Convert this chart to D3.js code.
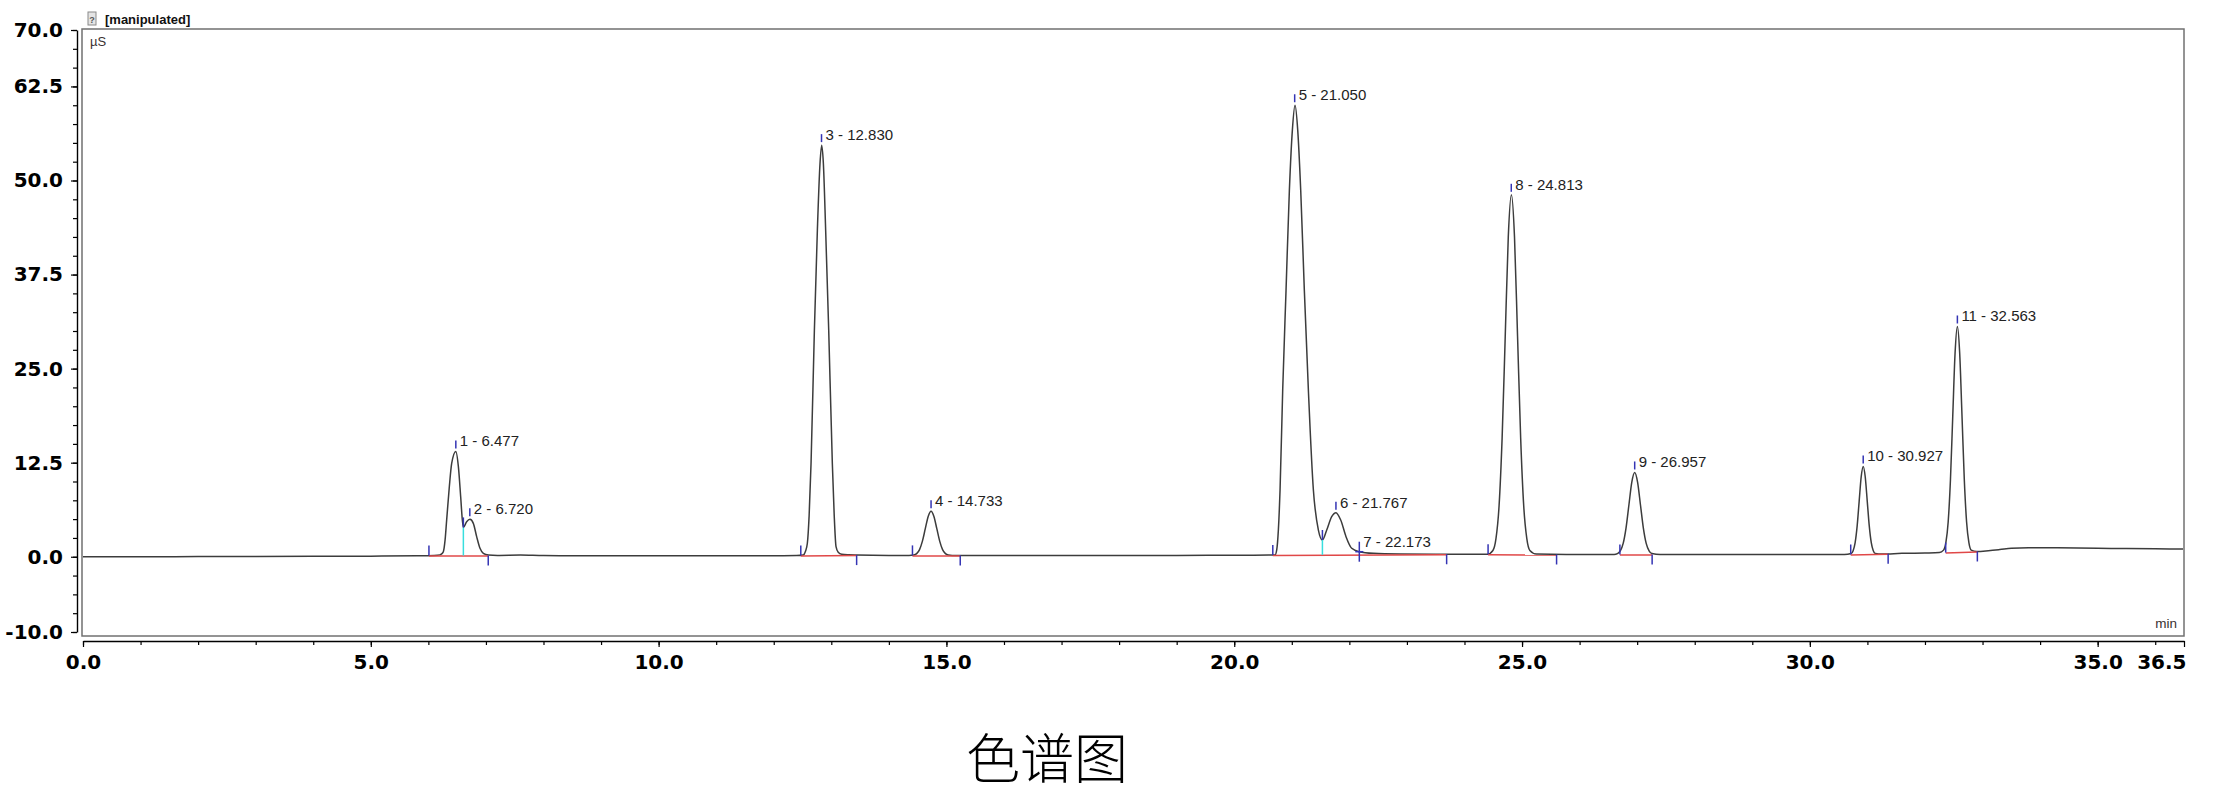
<!DOCTYPE html>
<html>
<head>
<meta charset="utf-8">
<script src="https://cdn.jsdelivr.net/npm/d3@7"></script>
<style>
  html, body { margin: 0; padding: 0; background: #ffffff; }
  svg { display: block; }
</style>
</head>
<body>
<script>
// ---------------- DATA ----------------
// chromatogram trace: [time (min), signal (µS)]
const trace = [
  [0, 0.0], [1, 0.0], [2, 0.02], [3, 0.03], [4, 0.05], [5, 0.08], [5.8, 0.12], [6.1, 0.17],
  [6.202, 0.25], [6.23, 0.38], [6.26, 0.67], [6.29, 2.2], [6.318, 4.9], [6.364, 9.3], [6.405, 12.4],
  [6.477, 14.0], [6.521, 12.0], [6.561, 8.0], [6.59, 4.9], [6.608, 3.9], [6.665, 4.66], [6.723, 4.97],
  [6.781, 4.44], [6.839, 2.67], [6.897, 1.12], [6.955, 0.45], [7.042, 0.23], [7.2, 0.18], [7.6, 0.22],
  [8.0, 0.15], [9, 0.12], [10, 0.12], [11, 0.13], [12, 0.14], [12.4, 0.16],
  [12.514, 0.23], [12.55, 0.7], [12.584, 1.79], [12.615, 5.5], [12.648, 12.4], [12.706, 30.1],
  [12.758, 43.4], [12.804, 52.3], [12.833, 54.7], [12.862, 52.3], [12.902, 43.4], [12.955, 30.1],
  [13.018, 12.4], [13.05, 5.6], [13.082, 1.34], [13.12, 0.6], [13.18, 0.33], [13.3, 0.25],
  [13.44, 0.22], [14.0, 0.18], [14.35, 0.18],
  [14.433, 0.22], [14.483, 0.41], [14.533, 0.95], [14.583, 2.07], [14.633, 3.73], [14.683, 5.36],
  [14.733, 6.05], [14.783, 5.36], [14.833, 3.73], [14.883, 2.07], [14.933, 0.95], [14.983, 0.41],
  [15.033, 0.22], [15.1, 0.18], [16, 0.18], [17, 0.18], [18, 0.18], [19, 0.18], [20, 0.2], [20.6, 0.22],
  [20.709, 0.23], [20.738, 0.9], [20.767, 3.6], [20.796, 8.87], [20.842, 22.16], [20.9, 35.4],
  [20.958, 48.7], [21.01, 56.7], [21.056, 60.0], [21.103, 56.7], [21.155, 48.7], [21.218, 35.4],
  [21.288, 22.16], [21.375, 8.87], [21.462, 3.55], [21.532, 2.23], [21.607, 3.55], [21.693, 5.32],
  [21.768, 5.86], [21.85, 4.88], [21.942, 2.67], [22.041, 1.12], [22.168, 0.67], [22.418, 0.45],
  [22.88, 0.36], [23.5, 0.33], [24.0, 0.32], [24.4, 0.32],
  [24.494, 0.83], [24.547, 2.40], [24.601, 6.77], [24.654, 15.8], [24.708, 29.3], [24.761, 42.5],
  [24.815, 48.1], [24.869, 42.5], [24.922, 29.3], [24.976, 15.8], [25.029, 6.77], [25.083, 2.40],
  [25.136, 0.83], [25.25, 0.35], [26, 0.3], [26.6, 0.3],
  [26.657, 0.42], [26.707, 0.78], [26.757, 1.77], [26.807, 3.84], [26.857, 6.91], [26.907, 9.92],
  [26.957, 11.2], [27.007, 9.92], [27.057, 6.91], [27.107, 3.84], [27.157, 1.77], [27.207, 0.78],
  [27.257, 0.42], [27.4, 0.3], [28, 0.3], [29, 0.3], [30, 0.3], [30.6, 0.3],
  [30.717, 0.43], [30.752, 0.81], [30.787, 1.88], [30.822, 4.10], [30.857, 7.40], [30.892, 10.63],
  [30.927, 12.0], [30.962, 10.63], [30.997, 7.40], [31.032, 4.10], [31.067, 1.88], [31.102, 0.81],
  [31.137, 0.43], [31.25, 0.35], [31.6, 0.45], [32.0, 0.5], [32.25, 0.55],
  [32.323, 0.88], [32.363, 1.87], [32.403, 4.62], [32.443, 10.31], [32.483, 18.78], [32.523, 27.07],
  [32.563, 30.6], [32.603, 27.07], [32.643, 18.78], [32.683, 10.31], [32.723, 4.62], [32.763, 1.87],
  [32.803, 0.88], [32.9, 0.7], [33.1, 0.8], [33.3, 0.95], [33.5, 1.12], [33.8, 1.2], [34.3, 1.18],
  [35, 1.12], [35.5, 1.08], [36, 1.05], [36.5, 1.02]
];

const peakLabels = ["1 - 6.477", "2 - 6.720", "3 - 12.830", "4 - 14.733", "5 - 21.050", "6 - 21.767",
                    "7 - 22.173", "8 - 24.813", "9 - 26.957", "10 - 30.927", "11 - 32.563"];
const peakTimes  = [6.477, 6.720, 12.830, 14.733, 21.050, 21.767, 22.173, 24.813, 26.957, 30.927, 32.563];
const peakApex   = [14.0, 4.97, 54.7, 6.05, 60.0, 5.86, 0.67, 48.1, 11.2, 12.0, 30.6];
const peakKind   = ["apex", "apex", "apex", "apex", "apex", "apex", "cross", "apex", "apex", "apex", "apex"];

// integration baselines: start / end times and levels
const startTimes = [6.01, 12.47, 14.41, 20.67, 24.41, 26.70, 30.71, 32.36];
const startVals  = [0.15, 0.16, 0.18, 0.22, 0.32, 0.30, 0.30, 0.55];
const endTimes   = [7.04, 13.44, 15.24, 23.69, 25.60, 27.26, 31.36, 32.91];
const endVals    = [0.18, 0.22, 0.18, 0.33, 0.30, 0.30, 0.40, 0.70];

// valley drop lines between fused peaks
const valleyTimes = [6.608, 21.532];
const valleyVals  = [3.9, 2.23];
const valleyBase  = [0.16, 0.25];

// axes
const xMajor = [0, 5, 10, 15, 20, 25, 30, 35, 36.5];
const xMinor = d3.range(0, 37, 1);
const yMajor = [-10, 0, 12.5, 25, 37.5, 50, 62.5, 70];
const yMinor = d3.range(-10, 70.01, 2.5);

const titleText = "色谱图";
const headerText = "[manipulated]";
const yUnit = "µS";
const xUnit = "min";

// ---------------- DRAW ----------------
const W = 2218, H = 795;
const svg = d3.select("body").append("svg").attr("width", W).attr("height", H);

const x = d3.scaleLinear().domain([0, 36.5]).range([83, 2184]);
const y = d3.scaleLinear().domain([-10, 70]).range([632, 30]);

const tickFont = "'DejaVu Sans', Arial, sans-serif";
const textFont = "'Liberation Sans', Arial, sans-serif";

// plot frame
svg.append("rect")
  .attr("x", 82).attr("y", 29).attr("width", 2102).attr("height", 607)
  .attr("fill", "none").attr("stroke", "#707070").attr("stroke-width", 1.5);

// header
const icon = svg.append("g");
icon.append("rect").attr("x", 88).attr("y", 12).attr("width", 8).attr("height", 13)
  .attr("fill", "#e4e4e4").attr("stroke", "#8a8a8a").attr("stroke-width", 1);
icon.append("text").attr("x", 92).attr("y", 23).attr("text-anchor", "middle")
  .attr("font-family", textFont).attr("font-size", 9).attr("font-weight", "bold")
  .attr("fill", "#555").text("?");
svg.append("text").attr("x", 105).attr("y", 24)
  .attr("font-family", textFont).attr("font-size", 13).attr("font-weight", "bold")
  .attr("fill", "#111").text(headerText);

svg.append("text").attr("x", 90).attr("y", 46)
  .attr("font-family", textFont).attr("font-size", 13).attr("fill", "#3a3030").text(yUnit);
svg.append("text").attr("x", 2177).attr("y", 628).attr("text-anchor", "end")
  .attr("font-family", textFont).attr("font-size", 13.5).attr("fill", "#3a3030").text(xUnit);

// y axis
const fmt = d => d.toFixed(1);
const yAxisG = svg.append("g").attr("transform", "translate(77,0)")
  .call(d3.axisLeft(y).tickValues(yMajor).tickSize(6).tickSizeOuter(0).tickPadding(8).tickFormat(fmt));
svg.append("g").attr("transform", "translate(77,0)")
  .call(d3.axisLeft(y).tickValues(yMinor).tickSize(4).tickSizeOuter(0).tickFormat(""))
  .call(g => g.select(".domain").remove());

// x axis
const xAxisG = svg.append("g").attr("transform", "translate(0,641)")
  .call(d3.axisBottom(x).tickValues(xMajor).tickSize(6).tickSizeOuter(0).tickPadding(8).tickFormat(fmt));
svg.append("g").attr("transform", "translate(0,641)")
  .call(d3.axisBottom(x).tickValues(xMinor).tickSize(4).tickSizeOuter(0).tickFormat(""))
  .call(g => g.select(".domain").remove());

svg.selectAll(".tick line").attr("stroke", "#000").attr("stroke-width", 1.2);
svg.selectAll(".domain").attr("stroke", "#000").attr("stroke-width", 1.4);
[yAxisG, xAxisG].forEach(g => g.selectAll("text")
  .attr("font-family", tickFont).attr("font-size", 20).attr("font-weight", "bold").attr("fill", "#000"));
xAxisG.selectAll(".tick").filter(d => d === 36.5).select("text").attr("text-anchor", "end").attr("dx", 2);

// clip for plot
svg.append("clipPath").attr("id", "plotclip").append("rect")
  .attr("x", 83).attr("y", 30).attr("width", 2100).attr("height", 605);
const plot = svg.append("g").attr("clip-path", "url(#plotclip)");

// trace
const line = d3.line().x(d => x(d[0])).y(d => y(d[1])).curve(d3.curveMonotoneX);
plot.append("path").datum(trace).attr("d", line)
  .attr("fill", "none").attr("stroke", "#3c3c3c").attr("stroke-width", 1.5);

// integration baselines (red)
plot.selectAll(".base").data(startTimes).join("line").attr("class", "base")
  .attr("x1", (d, i) => x(d)).attr("y1", (d, i) => y(startVals[i]) + 0.5)
  .attr("x2", (d, i) => x(endTimes[i])).attr("y2", (d, i) => y(endVals[i]) + 0.5)
  .attr("stroke", "#e04848").attr("stroke-width", 1.5);

// valley drop lines (cyan)
plot.selectAll(".drop").data(valleyTimes).join("line").attr("class", "drop")
  .attr("x1", d => x(d)).attr("x2", d => x(d))
  .attr("y1", (d, i) => y(valleyBase[i])).attr("y2", (d, i) => y(valleyVals[i]))
  .attr("stroke", "#38dede").attr("stroke-width", 1.5);

const markColor = "#3434b4";
// valley start ticks
plot.selectAll(".vtick").data(valleyTimes).join("line").attr("class", "vtick")
  .attr("x1", d => x(d)).attr("x2", d => x(d))
  .attr("y1", (d, i) => y(valleyVals[i])).attr("y2", (d, i) => y(valleyVals[i]) - 10)
  .attr("stroke", markColor).attr("stroke-width", 1.5);

// start ticks (above baseline)
plot.selectAll(".stick").data(startTimes).join("line").attr("class", "stick")
  .attr("x1", d => x(d)).attr("x2", d => x(d))
  .attr("y1", (d, i) => y(startVals[i])).attr("y2", (d, i) => y(startVals[i]) - 10)
  .attr("stroke", markColor).attr("stroke-width", 1.5);
// end ticks (below baseline)
plot.selectAll(".etick").data(endTimes).join("line").attr("class", "etick")
  .attr("x1", d => x(d)).attr("x2", d => x(d))
  .attr("y1", (d, i) => y(endVals[i])).attr("y2", (d, i) => y(endVals[i]) + 10)
  .attr("stroke", markColor).attr("stroke-width", 1.5);

// peak markers
peakTimes.forEach((t, i) => {
  const px = x(t), py = y(peakApex[i]);
  if (peakKind[i] === "apex") {
    plot.append("line").attr("x1", px).attr("x2", px).attr("y1", py - 11).attr("y2", py - 3)
      .attr("stroke", markColor).attr("stroke-width", 1.5);
  } else {
    plot.append("line").attr("x1", px).attr("x2", px).attr("y1", py - 10).attr("y2", py + 10)
      .attr("stroke", markColor).attr("stroke-width", 1.5);
    plot.append("line").attr("x1", px - 4).attr("x2", px + 4).attr("y1", py).attr("y2", py)
      .attr("stroke", markColor).attr("stroke-width", 1.5);
  }
  plot.append("text").attr("x", px + 4).attr("y", py - 5)
    .attr("font-family", textFont).attr("font-size", 15).attr("fill", "#222")
    .text(peakLabels[i]);
});

// title
svg.append("text").attr("x", 1047).attr("y", 779).attr("text-anchor", "middle")
  .attr("font-family", "'Noto Sans CJK SC', 'Noto Sans CJK TC', sans-serif")
  .attr("font-size", 54).attr("font-weight", 300).attr("fill", "#000").text(titleText);
</script>
</body>
</html>
